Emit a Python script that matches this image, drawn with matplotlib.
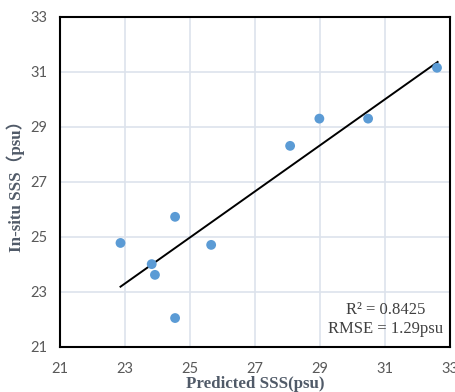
import matplotlib.pyplot as plt

# data
predicted = [32.6, 30.48, 28.98, 28.08, 24.54, 25.65, 22.86, 23.82, 23.92, 24.54]
insitu = [31.15, 29.3, 29.3, 28.31, 25.73, 24.71, 24.78, 24.01, 23.62, 22.05]
fit_x = [22.86, 32.62]
fit_y = [23.19, 31.36]
ticks = [21, 23, 25, 27, 29, 31, 33]

fig = plt.figure(figsize=(4.55, 3.92), dpi=100)
ax = fig.add_axes([0.132, 0.115, 0.857, 0.842])

ax.grid(True, color="#dde3ec", linewidth=1.2)
ax.set_axisbelow(True)
ax.plot(fit_x, fit_y, color="black", linewidth=1.4, zorder=2)
ax.scatter(predicted, insitu, s=50, color="#5b9bd5", edgecolors="none", zorder=3)

ax.set_xlim(21, 33)
ax.set_ylim(21, 33)
ax.set_xticks(ticks)
ax.set_yticks(ticks)
ax.tick_params(length=0, labelsize=10.5, labelcolor="#595959")
ax.tick_params(axis="x", pad=11)
ax.tick_params(axis="y", pad=9)
for lab in ax.get_xticklabels() + ax.get_yticklabels():
    lab.set_family("Lato")
for s in ax.spines.values():
    s.set_linewidth(1.5)
    s.set_color("black")

ax.set_xlabel("Predicted SSS(psu)", family="Liberation Serif", fontweight="bold",
              fontsize=12.2, color="#505a68", labelpad=0)
ax.set_ylabel("In-situ SSS（psu）", family=["Liberation Serif", "Noto Sans CJK SC"],
              fontweight="bold", fontsize=12.2, color="#505a68", labelpad=4)

ax.text(0.982, 0.03, "R² = 0.8425\nRMSE = 1.29psu", transform=ax.transAxes,
        ha="right", va="bottom", multialignment="center", family="Liberation Serif",
        fontsize=12, color="#404040", linespacing=1.25)

fig.savefig("out.png", dpi=100)
